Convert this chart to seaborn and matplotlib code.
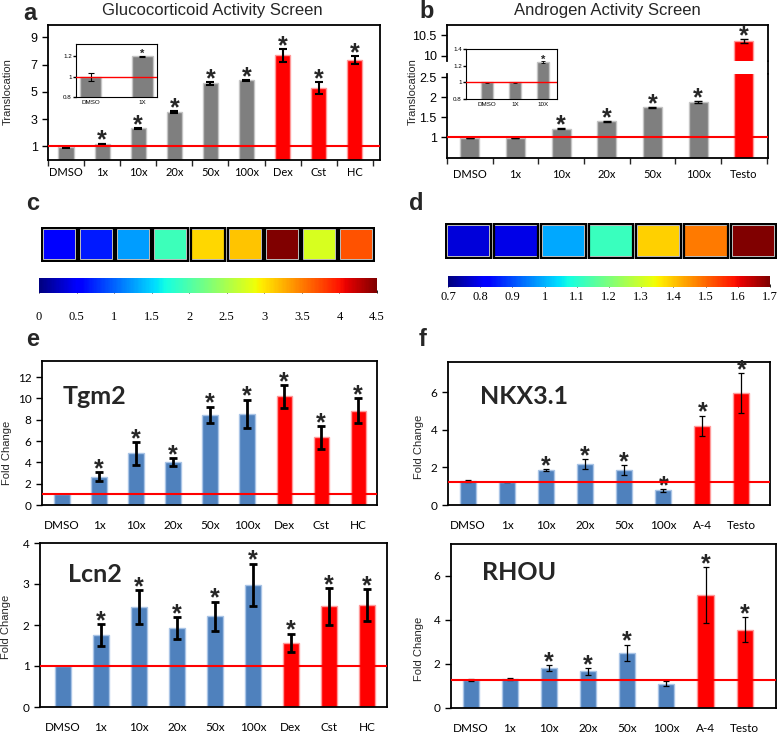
import numpy as np
import pandas as pd
import matplotlib
matplotlib.use('Agg')
import matplotlib.pyplot as plt
import seaborn as sns
from matplotlib.patches import Rectangle
from matplotlib.lines import Line2D

W, H = 779, 735

# ---- data ----
gc_labels = ['DMSO', '1x', '10x', '20x', '50x', '100x', 'Dex', 'Cst', 'HC']
gc_trans = [0.93, 1.18, 2.32, 3.52, 5.62, 5.85, 7.68, 5.28, 7.35]
gc_trans_err = [0.02, 0.02, 0.05, 0.05, 0.12, 0.04, 0.48, 0.42, 0.3]
gc_star = [False, True, True, True, True, True, True, True, True]
gc_color = ['#7f7f7f'] * 6 + ['#ff0000'] * 3

gc_in_labels = ['DMSO', '1X']
gc_in_vals = [1.0, 1.2]
gc_in_err = [0.04, 0.006]

an_labels = ['DMSO', '1x', '10x', '20x', '50x', '100x', 'Testo']
an_trans = [0.975, 0.975, 1.21, 1.39, 1.74, 1.87, 10.36]
an_trans_err = [0.004, 0.004, 0.008, 0.008, 0.01, 0.02, 0.05]
an_star = [False, False, True, True, True, True, True]
an_color = ['#7f7f7f'] * 6 + ['#ff0000']

an_in_labels = ['DMSO', '1X', '10X']
an_in_vals = [1.0, 1.0, 1.24]
an_in_err = [0.004, 0.003, 0.012]

heat_c = [0.55, 0.68, 1.26, 1.9, 3.07, 3.15, 4.5, 2.75, 3.7]
heat_c_ticks = [0, 0.5, 1, 1.5, 2, 2.5, 3, 3.5, 4, 4.5]
heat_c_ticklabels = ['0', '0.5', '1', '1.5', '2', '2.5', '3', '3.5', '4', '4.5']
heat_d = [0.78, 0.79, 0.99, 1.12, 1.39, 1.48, 1.7]
heat_d_ticks = [0.7, 0.8, 0.9, 1.0, 1.1, 1.2, 1.3, 1.4, 1.5, 1.6, 1.7]
heat_d_ticklabels = ['0.7', '0.8', '0.9', '1', '1.1', '1.2', '1.3', '1.4', '1.5', '1.6', '1.7']

gc_fc_color = ['#4f81bd'] * 6 + ['#ff0000'] * 3
tgm2 = [1.05, 2.65, 4.83, 4.05, 8.48, 8.57, 10.19, 6.35, 8.85]
tgm2_err = [0, 0.42, 1.05, 0.37, 0.75, 1.32, 1.05, 1.07, 1.17]
tgm2_star = [False] + [True] * 8
lcn2 = [1.0, 1.76, 2.44, 1.92, 2.21, 2.98, 1.56, 2.46, 2.48]
lcn2_err = [0, 0.26, 0.42, 0.27, 0.36, 0.52, 0.23, 0.45, 0.39]
lcn2_star = [False] + [True] * 8

an_fc_labels = ['DMSO', '1x', '10x', '20x', '50x', '100x', 'A-4', 'Testo']
an_fc_color = ['#4f81bd'] * 6 + ['#ff0000'] * 2
nkx = [1.28, 1.22, 1.86, 2.18, 1.86, 0.78, 4.2, 5.97]
nkx_err = [0.04, 0.02, 0.05, 0.28, 0.27, 0.07, 0.55, 1.06]
nkx_star = [False, False, True, True, True, True, True, True]
rhou = [1.27, 1.33, 1.81, 1.66, 2.5, 1.1, 5.14, 3.56]
rhou_err = [0.05, 0.04, 0.15, 0.16, 0.38, 0.11, 1.26, 0.56]
rhou_star = [False, False, True, True, True, False, True, True]

sns.set_theme(style='white')
plt.rcParams['font.family'] = ['Liberation Sans', 'DejaVu Sans']

fig = plt.figure(figsize=(W / 100, H / 100), dpi=100)


def px_axes(l, t, r, b):
    return fig.add_axes([l / W, 1 - b / H, (r - l) / W, (b - t) / H])


def lighter(c):
    return {'#7f7f7f': '#c4c4c4', '#ff0000': '#ff9a9a', '#4f81bd': '#a9c4e6'}[c]


def bars(ax, labels, vals, errs, colors, stars, width=0.42, elw=2.0, cap=3,
         star_fs=18, star_off=-3):
    df = pd.DataFrame({'cond': labels, 'val': vals})
    sns.barplot(data=df, x='cond', y='val', hue='cond', palette=colors,
                legend=False, width=width, ax=ax, saturation=1, linewidth=1)
    for p, c in zip(ax.patches, colors):
        p.set_edgecolor(lighter(c))
    x = np.arange(len(labels))
    v = np.array(vals)
    e = np.array(errs)
    m = e > 0
    ax.errorbar(x[m], v[m], yerr=e[m], fmt='none', ecolor='black',
                elinewidth=elw, capsize=cap, capthick=elw, zorder=5)
    for i in range(len(labels)):
        if stars[i]:
            ax.annotate('*', (i, v[i] + e[i]), xytext=(0, star_off),
                        textcoords='offset points', ha='center', va='baseline',
                        fontsize=star_fs, fontweight='bold', clip_on=False,
                        annotation_clip=False)
    ax.set_xlabel('')
    ax.set_ylabel('')
    for s in ax.spines.values():
        s.set_color('black')
        s.set_linewidth(1.3)


def frame_ticks(ax, xfont='Lato', yfont='Liberation Sans', xsize=8, ysize=8, xpad=6):
    ax.tick_params(axis='x', length=0, pad=xpad, labelsize=xsize, colors='black')
    ax.tick_params(axis='y', length=4, width=1, direction='out', left=True,
                   labelsize=ysize, colors='black')
    for lab in ax.get_xticklabels():
        lab.set_family(xfont)
    for lab in ax.get_yticklabels():
        lab.set_family(yfont)


# ---- a: glucocorticoid screen ----
ax_a = px_axes(48, 25, 380, 160)
bars(ax_a, gc_labels, gc_trans, gc_trans_err, gc_color, gc_star, elw=1.5, cap=3)
ax_a.axhline(1, color='red', lw=1.5, zorder=6)
ax_a.set_ylim(0, 9.9)
ax_a.set_xlim(-0.46, 8.7)
ax_a.set_yticks([1, 3, 5, 7, 9])
ax_a.set_xticks(np.arange(-0.5, 9, 1), minor=True)
ax_a.tick_params(axis='x', which='minor', length=4, width=1, bottom=True, direction='out')
frame_ticks(ax_a, ysize=9, xpad=5)

ax_ai = px_axes(76, 44, 157, 97)
bars(ax_ai, gc_in_labels, gc_in_vals, gc_in_err, ['#7f7f7f'] * 2, [False, True],
     width=0.42, elw=0.8, cap=2, star_fs=8, star_off=-1)
ax_ai.axhline(1, color='red', lw=1.0, zorder=6)
ax_ai.set_ylim(0.8, 1.32)
ax_ai.set_yticks([0.8, 1.0, 1.2])
ax_ai.set_yticklabels(['0.8', '1', '1.2'])
for s in ax_ai.spines.values():
    s.set_linewidth(0.8)
frame_ticks(ax_ai, xfont='Liberation Sans', xsize=4.5, ysize=4.5, xpad=2)
ax_ai.tick_params(axis='y', length=2, pad=1)

# ---- b: androgen screen (broken axis) ----
ax_bt = px_axes(447, 25, 768, 61)
ax_bb = px_axes(447, 74, 768, 158)
bars(ax_bt, an_labels, an_trans, an_trans_err, an_color,
     [False] * 6 + [True], elw=1.0, cap=3, star_off=-3)
bars(ax_bb, an_labels, an_trans, an_trans_err, an_color,
     an_star[:6] + [False], elw=1.0, cap=3)
ax_bb.axhline(1, color='red', lw=1.5, zorder=6)
ax_bt.set_ylim(9.88, 10.74)
ax_bb.set_ylim(0.475, 2.575)
for axx in (ax_bt, ax_bb):
    axx.set_xlim(-0.5, 6.53)
ax_bt.set_yticks([10, 10.5])
ax_bt.set_yticklabels(['10', '10.5'])
ax_bb.set_yticks([1, 1.5, 2, 2.5])
ax_bb.set_yticklabels(['1', '1.5', '2', '2.5'])
ax_bt.spines['bottom'].set_visible(False)
ax_bb.spines['top'].set_visible(False)
ax_bt.set_xticks([])
ax_bb.set_xticks(np.arange(-0.5, 7, 1), minor=True)
ax_bb.tick_params(axis='x', which='minor', length=4, width=1, bottom=True, direction='out')
frame_ticks(ax_bt, ysize=9)
frame_ticks(ax_bb, ysize=9, xpad=8)
fig.add_artist(Line2D([768 / W, 768 / W], [1 - 61 / H, 1 - 74 / H], color='black', lw=1.3))

ax_bi = px_axes(466, 49, 557, 99)
bars(ax_bi, an_in_labels, an_in_vals, an_in_err, ['#7f7f7f'] * 3, [False, False, True],
     width=0.45, elw=0.6, cap=1.5, star_fs=8, star_off=-1)
ax_bi.axhline(1, color='red', lw=1.0, zorder=6)
ax_bi.set_ylim(0.8, 1.4)
ax_bi.set_xlim(-0.75, 2.5)
ax_bi.set_yticks([0.8, 1.0, 1.2, 1.4])
ax_bi.set_yticklabels(['0.8', '1', '1.2', '1.4'])
for s in ax_bi.spines.values():
    s.set_linewidth(0.8)
frame_ticks(ax_bi, xfont='Liberation Sans', xsize=4.5, ysize=4.5, xpad=2)
ax_bi.tick_params(axis='y', length=2, pad=1)

fig.text(212 / W, 1 - 11 / H, 'Glucocorticoid Activity Screen', ha='center', va='center', fontsize=12)
fig.text(607 / W, 1 - 11 / H, 'Androgen Activity Screen', ha='center', va='center', fontsize=12)
fig.text(8 / W, 1 - 92 / H, 'Translocation', rotation=90, ha='center', va='center', fontsize=8)
fig.text(413 / W, 1 - 92 / H, 'Translocation', rotation=90, ha='center', va='center', fontsize=8)


# ---- c, d: heat strips ----
def heat(cells, ticks, ticklabels, vmin, vmax, box, cbox, lpad):
    ax = px_axes(*box)
    cax = px_axes(*cbox)
    sns.heatmap(np.array([cells]), cmap='jet', vmin=vmin, vmax=vmax, ax=ax,
                cbar_ax=cax, cbar_kws={'orientation': 'horizontal', 'ticks': ticks},
                linewidths=3, linecolor='#d0d0d0', xticklabels=False, yticklabels=False)
    for i in range(len(cells)):
        ax.add_patch(Rectangle((i + 0.03, 0.03), 0.94, 0.94, fill=False,
                               ec='black', lw=1.6, zorder=4))
    cax.set_xticklabels(ticklabels)
    cax.tick_params(axis='x', length=2, width=0.6, pad=lpad, labelsize=9,
                    colors='black', direction='in')
    for lab in cax.get_xticklabels():
        lab.set_family('Liberation Serif')
    cb = ax.collections[0].colorbar
    if cb is not None:
        cb.outline.set_edgecolor('#bbbbbb')


heat(heat_c, heat_c_ticks, heat_c_ticklabels, 0, 4.5, (41, 227, 375, 262), (39, 278, 377, 293), 13)
heat(heat_d, heat_d_ticks, heat_d_ticklabels, 0.7, 1.7, (445, 223, 777, 259), (448, 276, 770, 287), 3)


# ---- e, f: qPCR ----
def fc_panel(box, labels, vals, errs, colors, stars, ylim, yticks, xlim, line, gene, gpos,
             elw, cap, star_off=-3):
    ax = px_axes(*box)
    bars(ax, labels, vals, errs, colors, stars, width=0.41, elw=elw, cap=cap, star_off=star_off)
    ax.axhline(line, color='red', lw=1.5, zorder=6)
    ax.set_ylim(*ylim)
    ax.set_yticks(yticks)
    ax.set_xlim(*xlim)
    frame_ticks(ax, yfont='Lato', xsize=8.5, ysize=8.5, xpad=11)
    ax.text(gpos[0], gpos[1], gene, transform=fig.transFigure, ha='left', va='center',
            fontsize=18, fontweight='bold', family='Lato')
    return ax


fc_panel((42, 361, 377, 505), gc_labels, tgm2, tgm2_err, gc_fc_color, tgm2_star,
         (0, 13.5), [0, 2, 4, 6, 8, 10, 12], (-0.54, 8.51), 1.0, 'Tgm2',
         (63 / W, 1 - 396 / H), 2.0, 3)
fc_panel((40, 543, 387, 707), gc_labels, lcn2, lcn2_err, gc_fc_color, lcn2_star,
         (0, 4), [0, 1, 2, 3, 4], (-0.6, 8.53), 1.0, 'Lcn2',
         (68 / W, 1 - 575 / H), 2.0, 3)
fc_panel((448, 362, 770, 505), an_fc_labels, nkx, nkx_err, an_fc_color, nkx_star,
         (0, 7.6), [0, 2, 4, 6], (-0.51, 7.73), 1.24, 'NKX3.1',
         (480 / W, 1 - 396 / H), 0.9, 2)
fc_panel((451, 544, 776, 708), an_fc_labels, rhou, rhou_err, an_fc_color, rhou_star,
         (0, 7.45), [0, 2, 4, 6], (-0.5, 7.8), 1.28, 'RHOU',
         (482 / W, 1 - 573 / H), 0.9, 2)

for x, y in [(7, 453), (6, 627), (419, 447), (419, 649)]:
    fig.text(x / W, 1 - y / H, 'Fold Change', rotation=90, ha='center', va='center', fontsize=8)

for t, x, y in [('a', 30, 14), ('b', 427, 12), ('c', 33, 204), ('d', 416, 204),
                ('e', 33, 339), ('f', 423, 339)]:
    fig.text(x / W, 1 - y / H, t, ha='center', va='center', fontsize=17, fontweight='bold')

fig.savefig('out.png', dpi=100)
